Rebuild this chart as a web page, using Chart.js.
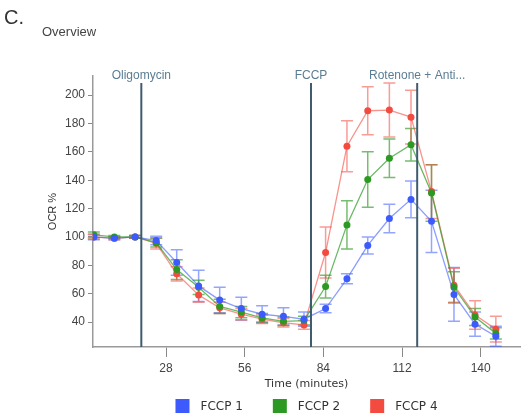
<!DOCTYPE html>
<html lang="en">
<head>
  <meta charset="UTF-8">
  <script src="https://cdn.jsdelivr.net/npm/chart.js"></script>
  <title>Overview</title>
  <style>
    body { margin: 0; background: #fff; }
    .wrap { position: relative; width: 524px; height: 416px; }
    .letter { position: absolute; left: 4px; top: 6px; font: 20px "Liberation Sans", Arial, sans-serif; color: #333; }
    .sub { position: absolute; left: 42px; top: 24px; font: 13px "Liberation Sans", Arial, sans-serif; color: #444; }
    canvas { position: absolute; left: 0; top: 0; }
  </style>
</head>
<body>
  <div class="wrap">
    <canvas id="ocr" width="524" height="416"></canvas>
    <div class="letter">C.</div>
    <div class="sub">Overview</div>
  </div>

  <script>
    // measurement times (minutes)
    const times = [2.3, 9.6, 17, 24.5, 31.8, 39.6, 47.1, 54.8, 62.2, 69.8, 77.1, 84.8, 92.4, 99.8, 107.5, 115.2, 122.5, 130.5, 138, 145.4];

    const fccp1 = [100, 99, 100, 97.5, 82, 65.5, 55.5, 49.5, 45.5, 44, 42, 49.5, 70.5, 94, 113, 126.5, 111, 59.5, 38.5, 30];
    const fccp1Err = [2, 1, 1, 3, 9, 11, 9, 8, 6, 6, 5, 3, 3.5, 6, 10, 13, 22, 19, 8.5, 7];

    const fccp2 = [101.5, 100, 100, 96, 77, 64.5, 51, 47, 43, 40.5, 41, 65, 108.5, 140.5, 155.5, 165, 131, 64.5, 43.5, 32];
    const fccp2Err = [2, 1, 1, 3, 7, 5, 5, 4, 3, 3, 3, 8, 17, 19.5, 13.5, 11.5, 20, 11, 6, 4];

    const fccp4 = [100, 99, 100, 95.5, 74, 59, 50, 45.5, 42, 39.5, 38, 89, 164, 189, 189.5, 184.5, 132, 66, 45, 35];
    const fccp4Err = [1.5, 1, 1, 4, 5, 5, 4, 4, 3, 3, 3, 18, 18, 17, 19, 19, 19, 12, 10, 9];

    // injections
    const injTimes = [19.2, 79.6, 117.4];
    const injLabels = ["Oligomycin", "FCCP", "Rotenone + Anti..."];

    const xTicks = [28, 56, 84, 112, 140];
    const yTicks = [40, 60, 80, 100, 120, 140, 160, 180, 200];

    const seriesNames = ["FCCP 1", "FCCP 2", "FCCP 4"];
    const seriesColors = ["#3d5bfd", "#2c9a22", "#f34b40"];
    const lineColors = ["rgba(61,91,253,0.6)", "rgba(44,154,34,0.7)", "rgba(243,75,64,0.6)"];
    const errColors = ["rgba(61,91,253,0.55)", "rgba(44,154,34,0.65)", "rgba(243,75,64,0.55)"];

    const allValues = [fccp1, fccp2, fccp4];
    const allErr = [fccp1Err, fccp2Err, fccp4Err];

    const datasets = allValues.map((vals, k) => ({
      label: seriesNames[k],
      data: vals.map((v, i) => ({ x: times[i], y: v })),
      err: allErr[k],
      borderColor: lineColors[k],
      backgroundColor: seriesColors[k],
      pointBackgroundColor: seriesColors[k],
      pointBorderColor: seriesColors[k],
      pointRadius: 3.5,
      pointBorderWidth: 0,
      borderWidth: 1.3,
      errColor: errColors[k]
    }));

    const errorBars = {
      id: "errorBars",
      beforeDatasetsDraw(chart) {
        const ctx = chart.ctx;
        const xs = chart.scales.x, ys = chart.scales.y;
        chart.data.datasets.forEach((ds) => {
          ctx.save();
          ctx.strokeStyle = ds.errColor;
          ctx.lineWidth = 1.5;
          ds.data.forEach((p, i) => {
            const e = ds.err[i];
            const px = xs.getPixelForValue(p.x);
            const top = ys.getPixelForValue(p.y + e);
            const bot = ys.getPixelForValue(p.y - e);
            ctx.beginPath();
            ctx.moveTo(px, top); ctx.lineTo(px, bot);
            ctx.moveTo(px - 6, top); ctx.lineTo(px + 6, top);
            ctx.moveTo(px - 6, bot); ctx.lineTo(px + 6, bot);
            ctx.stroke();
          });
          ctx.restore();
        });
      }
    };

    const injections = {
      id: "injections",
      afterDatasetsDraw(chart) {
        const ctx = chart.ctx;
        const area = chart.chartArea;
        const xs = chart.scales.x;
        ctx.save();
        injTimes.forEach((t, i) => {
          const px = xs.getPixelForValue(t);
          ctx.strokeStyle = "#3f5c6e";
          ctx.lineWidth = 2;
          ctx.beginPath();
          ctx.moveTo(px, area.top + 7);
          ctx.lineTo(px, area.bottom);
          ctx.stroke();
          ctx.fillStyle = "#5b7d93";
          ctx.font = "12px 'Liberation Sans', Arial, sans-serif";
          ctx.textAlign = "center";
          ctx.textBaseline = "middle";
          ctx.fillText(injLabels[i], px, area.top);
        });
        ctx.restore();
      }
    };

    // legend with wider spacing than the built-in one
    const bottomLegend = {
      id: "bottomLegend",
      afterDraw(chart) {
        const ctx = chart.ctx;
        const area = chart.chartArea;
        ctx.save();
        ctx.font = "12px 'DejaVu Sans', sans-serif";
        const box = 14, gapText = 11, gapItem = 30;
        const widths = seriesNames.map(n => ctx.measureText(n).width);
        let total = 0;
        widths.forEach((w, i) => { total += box + gapText + w + (i < widths.length - 1 ? gapItem : 0); });
        let x = (area.left + area.right) / 2 - total / 2;
        const y = 406;
        ctx.textBaseline = "middle";
        ctx.textAlign = "left";
        seriesNames.forEach((n, i) => {
          ctx.fillStyle = seriesColors[i];
          ctx.fillRect(x, y - box / 2, box, box);
          ctx.fillStyle = "#333";
          ctx.fillText(n, x + box + gapText, y + 1);
          x += box + gapText + widths[i] + gapItem;
        });
        ctx.restore();
      }
    };

    const ctx = document.getElementById("ocr").getContext("2d");
    new Chart(ctx, {
      type: "line",
      data: { datasets: datasets },
      options: {
        responsive: false,
        animation: false,
        layout: { padding: { left: 46, top: 76, right: -6, bottom: 25 } },
        plugins: {
          legend: { display: false },
          tooltip: { enabled: false }
        },
        scales: {
          x: {
            type: "linear",
            min: 2,
            max: 154,
            afterBuildTicks(scale) { scale.ticks = xTicks.map(v => ({ value: v })); },
            afterFit(scale) { scale.height = 44; },
            grid: { display: true, drawOnChartArea: false, drawTicks: true, tickLength: 10, color: "#888" },
            border: { display: true, color: "#999", width: 1.5 },
            ticks: { color: "#444", font: { family: "Liberation Sans", size: 12 }, padding: 4 },
            title: { display: true, text: "Time (minutes)", color: "#333", font: { family: "DejaVu Sans", size: 11 }, padding: { top: 0, bottom: 0 } }
          },
          y: {
            min: 22.4,
            max: 213.5,
            afterBuildTicks(scale) { scale.ticks = yTicks.map(v => ({ value: v })); },
            afterFit(scale) { scale.width = 47; },
            grid: { display: true, drawOnChartArea: false, drawTicks: true, tickLength: 5, color: "#888" },
            border: { display: true, color: "#999", width: 1.5 },
            ticks: { color: "#444", font: { family: "Liberation Sans", size: 12 }, padding: 3 },
            title: { display: true, text: "OCR %", color: "#333", font: { family: "Liberation Sans", size: 11 }, padding: 0 }
          }
        }
      },
      plugins: [errorBars, injections, bottomLegend]
    });
  </script>
</body>
</html>
